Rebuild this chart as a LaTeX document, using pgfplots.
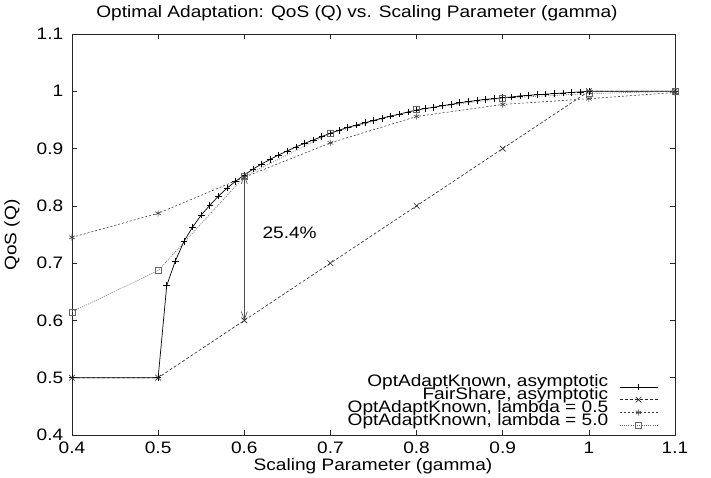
\documentclass[border=0pt]{standalone}
\usepackage{pgfplots}
\pgfplotsset{compat=1.18}
\usepackage{fontspec}
\setmainfont{Liberation Sans}[FakeStretch=1.15]
\usetikzlibrary{arrows.meta}
\pgfplotstableread{
x y
0.40 0.500
0.50 0.500
0.51 0.661
0.52 0.704
0.53 0.738
0.54 0.763
0.55 0.784
0.56 0.801
0.57 0.817
0.58 0.831
0.59 0.843
0.60 0.854
0.61 0.864
0.62 0.873
0.63 0.881
0.64 0.889
0.65 0.896
0.66 0.903
0.67 0.909
0.68 0.915
0.69 0.921
0.70 0.927
0.71 0.932
0.72 0.937
0.73 0.941
0.74 0.945
0.75 0.949
0.76 0.953
0.77 0.957
0.78 0.960
0.79 0.964
0.80 0.967
0.81 0.970
0.82 0.972
0.83 0.975
0.84 0.977
0.85 0.980
0.86 0.982
0.87 0.984
0.88 0.986
0.89 0.987
0.90 0.989
0.91 0.990
0.92 0.992
0.93 0.993
0.94 0.994
0.95 0.995
0.96 0.996
0.97 0.997
0.98 0.998
0.99 0.999
1.00 1.000
1.10 1.000
}\asym
\pgfplotstableread{
x y
0.4 0.5
0.5 0.5
0.6 0.6
0.7 0.7
0.8 0.8
0.9 0.9
1.0 1.0
1.1 1.0
}\fair
\pgfplotstableread{
x y
0.4 0.745
0.5 0.787
0.6 0.850
0.7 0.910
0.8 0.956
0.9 0.977
1.0 0.987
1.1 0.998
}\lamA
\pgfplotstableread{
x y
0.4 0.615
0.5 0.687
0.6 0.851
0.7 0.927
0.8 0.968
0.9 0.988
1.0 0.996
1.1 1.000
}\lamB
\begin{document}
\fontsize{16.6}{17}\selectfont
\begin{tikzpicture}
\useasboundingbox (-72pt,-43pt) rectangle (639pt,435pt);
\begin{axis}[
  scale only axis, width=603pt, height=401pt,
  anchor=south west, at={(0pt,0pt)},
  xmin=0.4, xmax=1.1, ymin=0.4, ymax=1.1,
  xtick={0.4,0.5,...,1.1}, ytick={0.4,0.5,...,1.1},
  /pgf/number format/assume math mode=true,
  tick pos=both, tick align=inside, major tick length=5pt,
  axis line style={black!85, line width=0.8pt},
  every tick/.style={black!85, line width=0.7pt},
  xticklabel style={yshift=-1.5pt},
  yticklabel style={xshift=-3pt},
  clip=false,
  legend cell align=right,
  legend plot pos=right,
  legend style={draw=none, fill=none, inner sep=0pt, at={(0.972,0.014)}, anchor=south east,
    row sep=0pt, column sep=11pt,
    nodes={inner sep=0pt, text height=9pt, text depth=3.8pt}},
  legend image code/.code={
    \draw[yshift=-2.5pt, mark repeat=2,mark phase=2] plot coordinates {(0pt,0pt) (19pt,0pt) (38pt,0pt)};},
]
\addplot[black, line width=0.7pt, mark=+, mark size=3.3pt] table {\asym};
\addlegendentry{OptAdaptKnown, asymptotic}
\addplot[black!85, line width=0.6pt, dash pattern=on 3pt off 2pt, mark=x, mark size=4pt, mark options={solid}] table {\fair};
\addlegendentry{FairShare, asymptotic}
\addplot[black!75, line width=0.6pt, dash pattern=on 2pt off 2pt, mark=asterisk, mark size=3.2pt, mark options={solid}] table {\lamA};
\addlegendentry{OptAdaptKnown, lambda = 0.5}
\addplot[black!60, line width=0.6pt, dash pattern=on 1pt off 1.2pt, mark=square, mark size=3pt, mark options={solid}] table {\lamB};
\addlegendentry{OptAdaptKnown, lambda = 5.0}
\draw[black!70, line width=0.6pt, {Straight Barb[length=8pt,width=6pt]}-{Straight Barb[length=8pt,width=6pt]}] (axis cs:0.6,0.6) -- (axis cs:0.6,0.854);
\node[anchor=center] at (axis cs:0.6526,0.7536) {25.4\%};
\end{axis}
\node[anchor=base] at (285pt,417pt) {Optimal Adaptation: QoS (Q) vs. Scaling Parameter (gamma)};
\node[anchor=base] at (301pt,-36pt) {Scaling Parameter (gamma)};
\node[rotate=90, anchor=center] at (-60pt,200pt) {QoS (Q)};
\end{tikzpicture}
\end{document}
